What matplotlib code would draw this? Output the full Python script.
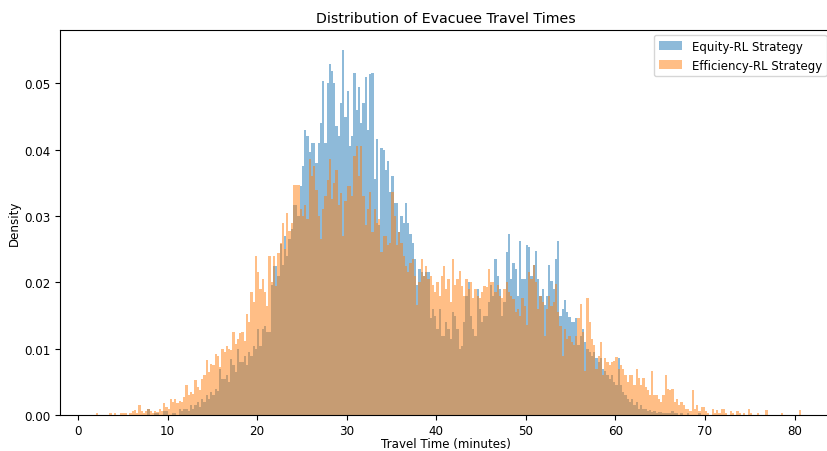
import numpy as np
import matplotlib
matplotlib.use("Agg")
import matplotlib.pyplot as plt

# Histogramas: densidad x 1000 por bin de 0.25 min
BIN_W = 0.25

# Efficiency-RL: bins desde 0.0 hasta 81.0 min
EFF_START = 0.0
eff_density = [
    0, 0, 0, 0, 0, 0, 0, 0, 0.3, 0, 0, 0, 0, 0, 0.3, 0, 0.3, 0, 0, 0.3,
    0.3, 0.3, 0, 0.3, 0.6, 0.8, 0.3, 1.5, 0.6, 0.3, 0.6, 0.9, 0.6, 0.3, 0.6, 0.5, 0.9, 0.6, 1.8, 1.2,
    0.9, 2.5, 2.0, 2.5, 1.8, 2.2, 2.0, 2.7, 4.5, 3.0, 3.5, 3.2, 5.3, 4.2, 3.8, 5.5, 6.0, 8.3, 6.5, 7.8,
    7.5, 9.3, 9.0, 7.2, 10.0, 9.5, 10.4, 10.0, 9.8, 12.6, 10.8, 11.5, 12.4, 12.6, 11.2, 15.3, 14.0, 18.6, 17.0, 24.0,
    21.6, 19.0, 20.6, 18.6, 16.5, 24.0, 20.0, 24.0, 19.5, 24.5, 26.0, 29.0, 25.0, 30.5, 27.8, 29.0, 34.7, 34.7, 34.7, 31.0,
    30.0, 31.6, 29.5, 38.6, 36.0, 37.5, 34.0, 30.0, 26.6, 31.0, 33.0, 35.5, 38.6, 32.6, 35.0, 37.0, 31.6, 33.5, 27.0, 32.3,
    34.6, 34.6, 33.0, 39.0, 40.5, 36.0, 40.6, 33.0, 28.6, 31.0, 33.6, 27.6, 31.0, 29.0, 29.6, 24.6, 27.0, 27.0, 25.6, 26.0,
    33.6, 30.0, 25.6, 27.6, 26.0, 24.0, 22.5, 21.6, 23.0, 23.6, 21.0, 16.6, 20.0, 23.6, 21.0, 22.5, 20.6, 21.0, 19.6, 18.5,
    20.0, 18.0, 21.0, 22.5, 19.0, 20.5, 17.0, 23.6, 19.6, 20.5, 21.8, 19.5, 18.0, 20.5, 19.0, 20.0, 17.6, 19.0, 18.0, 17.6,
    18.5, 19.5, 19.3, 22.0, 20.0, 20.0, 18.5, 19.6, 18.0, 17.6, 19.0, 20.0, 18.5, 18.0, 17.5, 15.6, 16.0, 15.0, 17.6, 16.5,
    13.6, 21.6, 20.5, 22.6, 20.0, 16.0, 18.0, 17.0, 12.0, 16.0, 18.0, 16.5, 17.0, 19.8, 15.6, 13.5, 9.0, 13.0, 11.5, 12.0,
    11.0, 10.6, 12.0, 14.6, 16.8, 12.6, 6.6, 17.6, 14.0, 11.5, 10.6, 7.0, 9.0, 11.0, 6.0, 8.6, 8.0, 7.5, 8.0, 8.2,
    8.8, 7.0, 7.5, 7.0, 6.0, 5.0, 6.0, 6.0, 4.5, 7.0, 5.6, 4.5, 5.6, 4.2, 3.8, 3.0, 6.6, 3.0, 3.0, 2.5,
    2.0, 3.0, 6.0, 4.0, 3.8, 4.0, 2.0, 2.5, 1.5, 2.0, 1.5, 1.0, 1.0, 0.6, 3.8, 1.0, 1.5, 0.6, 1.3, 1.3,
    0.6, 0.3, 0, 1.0, 0.3, 0.8, 0.3, 1.0, 1.0, 0.3, 0, 0.6, 0.3, 0, 0.6, 0.3, 0, 0.3, 0, 1.0,
    0.3, 0, 0, 0.3, 0, 0, 0, 0.8, 0, 0, 0, 0, 0, 0, 0.4, 0, 0, 0, 0, 0, 0, 0, 0.8, 0,
]

# Equity-RL: bins desde 7.5 hasta 70.5 min
EQ_START = 7.5
eq_density = [
    0, 1.0, 0, 0, 0.4, 0.4, 0, 0, 0.6, 0.6,
    0, 0, 0.3, 0.4, 0, 1.0, 0.6, 1.0, 1.0, 0.6, 1.5, 1.0, 1.5, 2.0, 1.2, 2.5, 2.0, 3.0, 2.5, 3.5,
    3.0, 4.0, 3.6, 7.0, 5.5, 5.5, 6.0, 5.0, 8.5, 7.5, 6.5, 10.0, 8.0, 8.0, 9.0, 7.5, 9.6, 9.0, 10.5, 10.0,
    13.0, 10.5, 13.0, 13.5, 12.6, 12.6, 19.6, 22.5, 22.5, 21.0, 25.8, 22.6, 27.0, 24.0, 26.5, 28.0, 31.6, 31.6, 30.0, 34.6,
    37.6, 43.0, 42.0, 39.6, 41.0, 41.0, 38.0, 41.0, 44.0, 50.3, 41.0, 50.0, 52.9, 51.8, 50.0, 43.6, 42.0, 47.0, 55.0, 45.0,
    48.8, 40.6, 42.0, 51.6, 46.0, 49.4, 44.0, 47.0, 50.9, 43.0, 51.4, 51.6, 35.6, 41.6, 28.6, 40.3, 40.0, 37.0, 38.3, 33.6,
    36.0, 32.0, 32.0, 27.6, 30.0, 29.0, 32.0, 29.0, 27.3, 26.0, 23.6, 19.6, 22.0, 21.6, 21.0, 21.6, 21.6, 14.6, 16.0, 15.0,
    13.0, 16.0, 12.0, 12.0, 14.0, 13.0, 11.5, 15.6, 15.0, 13.0, 10.0, 10.5, 14.0, 18.0, 20.0, 15.0, 13.0, 12.0, 19.0, 16.0,
    14.0, 15.0, 15.0, 17.0, 19.6, 18.0, 23.6, 21.0, 19.0, 15.0, 17.0, 24.6, 27.3, 20.6, 23.0, 22.0, 18.0, 26.3, 20.6, 20.6,
    25.6, 25.3, 21.0, 22.6, 24.8, 20.6, 18.0, 19.0, 16.6, 18.0, 22.6, 20.3, 19.0, 23.6, 26.3, 15.0, 16.0, 17.3, 15.5, 14.8,
    14.0, 14.0, 14.6, 10.6, 12.0, 13.0, 11.0, 10.0, 9.6, 9.0, 9.5, 8.6, 8.0, 8.6, 7.0, 6.6, 6.0, 5.5, 6.0, 5.0,
    4.5, 8.6, 4.5, 3.5, 3.0, 2.5, 2.0, 2.5, 1.5, 2.0, 1.0, 1.5, 1.0, 1.0, 0.6, 0.8, 0.5, 0.6, 0.4, 0.5,
    0.5, 0.3, 0.4, 0.3, 0.3, 0.6, 0.3, 0.4, 0, 0.3, 0, 0, 0.3, 0, 0, 0, 0, 0.4, 0, 0, 0, 0,
]

LABELS = ["Equity-RL Strategy", "Efficiency-RL Strategy"]


def edges_for(start, n):
    return start + BIN_W * np.arange(n + 1)


plt.rcParams["font.size"] = 8.6
fig, ax = plt.subplots(figsize=(8.28, 4.52), dpi=100)
# el eje derecho queda justo fuera del recorte, como en la original
fig.subplots_adjust(left=0.0725, right=1.004, bottom=0.079, top=0.931)

for vals, start, lab in [(eq_density, EQ_START, LABELS[0]),
                         (eff_density, EFF_START, LABELS[1])]:
    e = edges_for(start, len(vals))
    mids = (e[:-1] + e[1:]) / 2
    ax.hist(mids, bins=e, weights=np.array(vals) / 1000.0, alpha=0.5, label=lab)

ax.set_xlim(-2.0, 84.1)
ax.set_ylim(0, 0.058)
ax.tick_params(axis="x", pad=3)
ax.set_title("Distribution of Evacuee Travel Times", fontsize=10.2)
ax.set_xlabel("Travel Time (minutes)", labelpad=0)
ax.set_ylabel("Density", labelpad=2.5)
ax.legend(loc="upper right", fontsize=8.5, borderaxespad=0.4)

fig.savefig("out.png", dpi=100)
